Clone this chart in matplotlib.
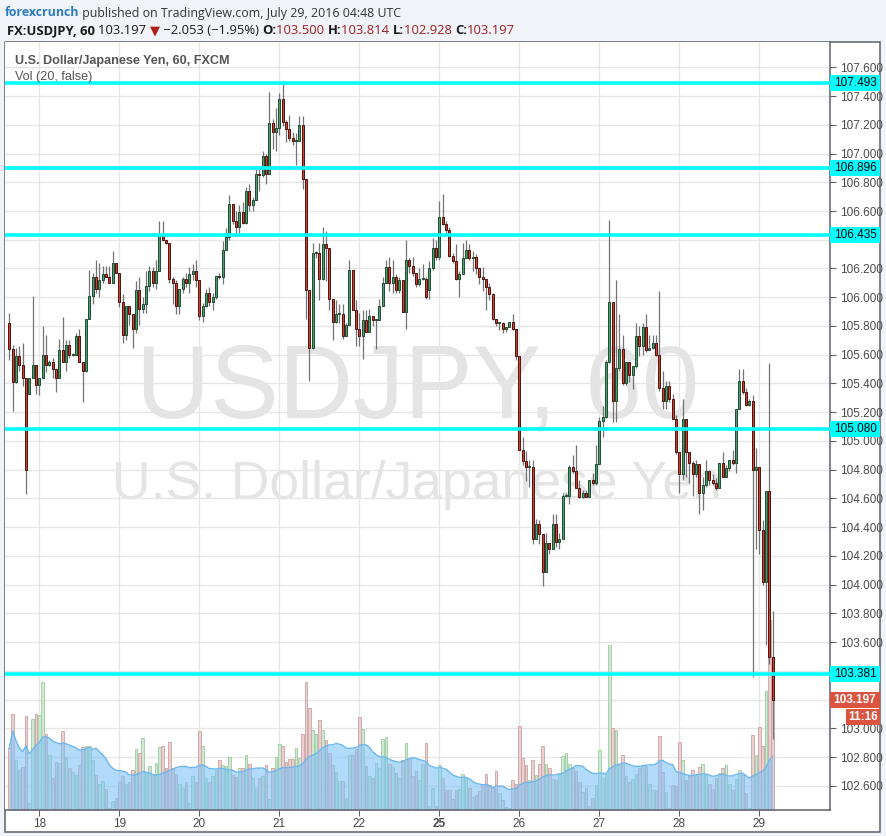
import numpy as np
import pandas as pd
import matplotlib
matplotlib.use('Agg')
import matplotlib.pyplot as plt
import matplotlib.transforms as mtransforms
from matplotlib.patches import Rectangle

plt.rcParams['font.family'] = ['Liberation Sans', 'DejaVu Sans']

W, H = 887, 836

# ── day labels (index of the 00:00 candle) ──
day_labels = ['18', '19', '20', '21', '22', '25', '26', '27', '28', '29']
day_start = [9, 33, 57, 81, 105, 129, 153, 177, 201, 225]

# ── hourly OHLC ──
opens = [
    105.82, 105.64, 105.41, 105.59, 105.53, 105.44, 105.33, 105.44, 105.53, 105.39,
    105.44, 105.60, 105.53, 105.55, 105.50, 105.44, 105.63, 105.55, 105.67, 105.60,
    105.60, 105.73, 105.55, 105.49, 105.85, 106.01, 106.14, 106.06, 106.12, 106.16,
    106.14, 106.10, 106.24, 106.17, 105.97, 105.74, 105.94, 105.88, 105.78, 106.05,
    105.92, 105.95, 106.08, 106.18, 106.10, 106.18, 106.44, 106.40, 106.38, 106.13,
    106.10, 105.94, 106.06, 106.13, 106.10, 106.16, 106.18, 106.12, 105.87, 105.94,
    106.03, 105.97, 106.00, 106.15, 106.14, 106.33, 106.42, 106.65, 106.53, 106.49,
    106.59, 106.52, 106.74, 106.64, 106.68, 106.86, 106.85, 106.98, 106.86, 107.21,
    107.15, 107.18, 107.38, 107.22, 107.17, 107.11, 107.09, 107.09, 107.20, 106.82,
    106.05, 105.65, 106.31, 106.31, 106.13, 106.37, 106.34, 105.99, 105.83, 105.88,
    105.88, 105.73, 105.81, 106.19, 105.91, 105.78, 105.73, 105.84, 105.76, 105.87,
    105.84, 105.84, 105.94, 106.10, 106.21, 106.10, 106.14, 106.05, 106.12, 105.90,
    106.26, 106.22, 106.17, 106.09, 106.13, 106.13, 106.05, 106.20, 106.34, 106.28,
    106.56, 106.51, 106.47, 106.29, 106.25, 106.13, 106.16, 106.27, 106.33, 106.27,
    106.28, 106.20, 106.14, 106.13, 106.07, 106.02, 105.85, 105.82, 105.82, 105.78,
    105.79, 105.83, 105.78, 105.59, 104.94, 104.86, 104.82, 104.82, 104.32, 104.42,
    104.35, 104.09, 104.29, 104.25, 104.42, 104.30, 104.32, 104.62, 104.62, 104.82,
    104.79, 104.67, 104.61, 104.64, 104.61, 104.73, 104.71, 104.84, 105.14, 105.17,
    105.55, 105.97, 105.28, 105.51, 105.64, 105.40, 105.55, 105.46, 105.52, 105.73,
    105.66, 105.79, 105.63, 105.65, 105.68, 105.60, 105.37, 105.28, 105.38, 105.29,
    105.15, 104.92, 104.77, 105.15, 104.92, 104.85, 104.77, 104.84, 104.64, 104.69,
    104.79, 104.73, 104.71, 104.67, 104.85, 104.75, 104.81, 104.87, 104.85, 105.22,
    105.42, 105.34, 105.25, 105.28, 104.80, 104.82, 104.38, 104.02, 104.65, 103.50,
]
highs = [
    105.89, 105.67, 105.65, 105.66, 105.68, 105.44, 105.44, 106.01, 105.53, 105.44,
    105.80, 105.74, 105.56, 105.58, 105.50, 105.71, 105.86, 105.70, 105.70, 105.61,
    105.75, 105.78, 105.55, 105.85, 106.19, 106.17, 106.26, 106.24, 106.22, 106.22,
    106.22, 106.32, 106.24, 106.17, 106.02, 105.94, 105.94, 105.88, 106.11, 106.14,
    106.00, 106.18, 106.22, 106.21, 106.26, 106.53, 106.53, 106.40, 106.38, 106.14,
    106.12, 106.06, 106.14, 106.17, 106.21, 106.23, 106.26, 106.12, 105.96, 106.06,
    106.07, 106.03, 106.15, 106.17, 106.39, 106.48, 106.71, 106.65, 106.60, 106.64,
    106.66, 106.77, 106.79, 106.70, 106.89, 106.89, 107.02, 107.00, 107.43, 107.24,
    107.32, 107.42, 107.49, 107.23, 107.27, 107.15, 107.14, 107.26, 107.26, 106.82,
    106.05, 106.38, 106.32, 106.38, 106.49, 106.46, 106.34, 105.99, 105.98, 105.95,
    105.95, 105.82, 106.26, 106.19, 105.98, 105.89, 105.91, 105.91, 105.92, 105.87,
    105.84, 105.99, 106.14, 106.26, 106.28, 106.26, 106.16, 106.14, 106.12, 106.40,
    106.27, 106.28, 106.17, 106.20, 106.23, 106.14, 106.25, 106.41, 106.40, 106.67,
    106.72, 106.53, 106.49, 106.31, 106.37, 106.18, 106.38, 106.40, 106.37, 106.32,
    106.30, 106.20, 106.21, 106.13, 106.10, 106.03, 105.85, 105.83, 105.83, 105.79,
    105.83, 105.88, 105.78, 105.59, 105.03, 104.93, 104.87, 104.87, 104.46, 104.45,
    104.35, 104.36, 104.29, 104.49, 104.49, 104.36, 104.64, 104.64, 104.83, 104.90,
    104.97, 104.73, 104.66, 104.66, 104.73, 104.78, 104.97, 105.17, 105.24, 105.56,
    106.54, 105.97, 106.12, 105.88, 105.74, 105.55, 105.55, 105.52, 105.82, 105.80,
    105.82, 105.88, 105.74, 105.74, 105.74, 106.04, 105.49, 105.42, 105.42, 105.33,
    105.18, 104.92, 105.29, 105.15, 104.92, 104.86, 104.87, 104.84, 104.75, 104.87,
    104.80, 104.77, 104.74, 104.85, 104.92, 104.83, 104.87, 104.94, 105.22, 105.50,
    105.50, 105.37, 105.29, 105.32, 104.95, 104.82, 104.45, 104.65, 105.54, 103.814,
]
lows = [
    105.56, 105.21, 105.40, 105.49, 105.38, 104.63, 105.33, 105.44, 105.33, 105.32,
    105.44, 105.48, 105.52, 105.44, 105.34, 105.44, 105.55, 105.49, 105.58, 105.59,
    105.60, 105.55, 105.27, 105.48, 105.85, 105.95, 106.03, 106.00, 106.10, 106.14,
    106.10, 106.10, 106.17, 105.93, 105.68, 105.70, 105.81, 105.65, 105.75, 105.81,
    105.89, 105.89, 106.04, 106.07, 106.06, 106.18, 106.39, 106.37, 106.10, 105.95,
    105.88, 105.88, 106.03, 106.07, 106.03, 106.12, 106.07, 105.84, 105.83, 105.93,
    105.94, 105.91, 105.99, 106.13, 106.09, 106.33, 106.40, 106.51, 106.45, 106.45,
    106.51, 106.51, 106.60, 106.60, 106.68, 106.74, 106.84, 106.79, 106.86, 107.03,
    107.02, 107.13, 107.19, 107.08, 107.09, 107.06, 106.92, 107.09, 106.75, 105.85,
    105.42, 105.64, 106.27, 105.98, 106.12, 106.11, 105.91, 105.70, 105.82, 105.82,
    105.71, 105.73, 105.81, 105.91, 105.66, 105.66, 105.57, 105.76, 105.76, 105.80,
    105.64, 105.84, 105.94, 106.10, 106.04, 106.03, 106.03, 106.03, 105.90, 105.78,
    106.17, 106.15, 106.07, 106.08, 106.12, 105.99, 105.99, 106.19, 106.26, 106.26,
    106.50, 106.45, 106.28, 106.24, 106.12, 106.00, 106.16, 106.27, 106.26, 106.18,
    106.16, 106.09, 106.04, 105.91, 105.98, 105.84, 105.80, 105.77, 105.75, 105.76,
    105.79, 105.77, 105.56, 104.94, 104.83, 104.72, 104.68, 104.28, 104.32, 104.28,
    103.99, 104.09, 104.21, 104.25, 104.26, 104.25, 104.32, 104.61, 104.56, 104.78,
    104.67, 104.60, 104.60, 104.61, 104.61, 104.69, 104.69, 104.84, 105.03, 105.16,
    105.54, 105.13, 105.13, 105.49, 105.39, 105.39, 105.41, 105.36, 105.51, 105.59,
    105.60, 105.62, 105.63, 105.64, 105.59, 105.35, 105.22, 105.22, 105.27, 105.15,
    104.91, 104.64, 104.73, 104.75, 104.71, 104.62, 104.75, 104.49, 104.52, 104.68,
    104.69, 104.69, 104.66, 104.67, 104.75, 104.75, 104.79, 104.83, 104.78, 105.22,
    105.33, 105.24, 105.24, 103.36, 104.25, 104.21, 104.00, 103.58, 103.45, 102.928,
]
closes = [
    105.64, 105.41, 105.59, 105.53, 105.44, 104.80, 105.44, 105.53, 105.39, 105.44,
    105.60, 105.53, 105.55, 105.50, 105.44, 105.63, 105.55, 105.67, 105.60, 105.60,
    105.73, 105.55, 105.49, 105.85, 106.01, 106.14, 106.06, 106.12, 106.16, 106.14,
    106.10, 106.24, 106.17, 105.97, 105.74, 105.94, 105.88, 105.78, 106.05, 105.92,
    105.95, 106.08, 106.18, 106.10, 106.18, 106.44, 106.40, 106.38, 106.13, 106.10,
    105.94, 106.06, 106.13, 106.10, 106.16, 106.18, 106.12, 105.87, 105.94, 106.03,
    105.97, 106.00, 106.15, 106.14, 106.33, 106.42, 106.65, 106.53, 106.49, 106.59,
    106.52, 106.74, 106.64, 106.68, 106.86, 106.85, 106.98, 106.86, 107.21, 107.15,
    107.18, 107.38, 107.22, 107.17, 107.11, 107.09, 107.09, 107.20, 106.82, 106.05,
    105.65, 106.31, 106.31, 106.13, 106.37, 106.34, 105.99, 105.83, 105.88, 105.88,
    105.73, 105.81, 106.19, 105.91, 105.78, 105.73, 105.84, 105.76, 105.87, 105.84,
    105.84, 105.94, 106.10, 106.21, 106.10, 106.14, 106.05, 106.12, 105.90, 106.26,
    106.22, 106.17, 106.09, 106.13, 106.13, 106.00, 106.20, 106.34, 106.28, 106.56,
    106.51, 106.47, 106.29, 106.25, 106.13, 106.16, 106.27, 106.33, 106.27, 106.28,
    106.20, 106.14, 106.13, 106.07, 106.02, 105.85, 105.82, 105.82, 105.78, 105.79,
    105.83, 105.78, 105.59, 104.94, 104.86, 104.82, 104.82, 104.32, 104.42, 104.35,
    104.09, 104.29, 104.25, 104.42, 104.30, 104.32, 104.62, 104.62, 104.82, 104.79,
    104.67, 104.61, 104.64, 104.61, 104.73, 104.71, 104.84, 105.14, 105.17, 105.55,
    105.97, 105.28, 105.51, 105.64, 105.40, 105.55, 105.46, 105.52, 105.73, 105.66,
    105.79, 105.63, 105.65, 105.68, 105.60, 105.37, 105.28, 105.38, 105.29, 105.15,
    104.92, 104.77, 105.15, 104.92, 104.85, 104.77, 104.84, 104.64, 104.69, 104.79,
    104.73, 104.71, 104.67, 104.85, 104.75, 104.81, 104.87, 104.85, 105.22, 105.42,
    105.34, 105.25, 105.28, 104.80, 104.82, 104.38, 104.02, 104.65, 103.50, 103.197,
]
volume = [
    62, 96, 50, 40, 43, 94, 7, 91, 96, 95, 128, 76, 55, 32, 48, 47, 79, 53, 42, 38,
    35, 45, 63, 64, 64, 50, 35, 26, 29, 21, 2, 9, 12, 28, 34, 26, 28, 40, 61, 57,
    72, 38, 44, 36, 47, 63, 64, 42, 68, 42, 36, 26, 22, 28, 7, 34, 28, 79, 64, 32,
    28, 34, 40, 50, 45, 44, 53, 35, 33, 42, 42, 55, 46, 32, 22, 32, 34, 45, 11, 42,
    53, 66, 64, 48, 51, 51, 62, 52, 76, 128, 102, 80, 76, 90, 80, 70, 57, 45, 38, 29,
    29, 12, 55, 55, 61, 93, 81, 44, 34, 32, 47, 42, 71, 73, 46, 43, 37, 32, 50, 67,
    52, 34, 39, 30, 46, 67, 4, 22, 4, 45, 32, 20, 20, 11, 20, 21, 36, 32, 22, 13,
    15, 19, 26, 36, 25, 22, 39, 17, 10, 3, 2, 30, 26, 84, 52, 45, 30, 50, 35, 46,
    64, 46, 42, 31, 30, 37, 54, 57, 46, 42, 39, 28, 18, 22, 4, 12, 25, 60, 32, 36,
    165, 82, 80, 45, 55, 34, 28, 31, 36, 42, 45, 44, 26, 20, 20, 74, 38, 18, 2, 25,
    24, 68, 50, 30, 34, 40, 35, 43, 46, 36, 26, 21, 32, 37, 42, 45, 26, 20, 31, 40,
    35, 17, 2, 75, 55, 83, 64, 119, 190, 114,
]

levels = [107.493, 106.896, 106.435, 105.080, 103.381]
last_price = 103.197
countdown = '11:16'

x = np.arange(len(closes))
o, hi, lo, c = (np.array(a) for a in (opens, highs, lows, closes))
vol = np.array(volume, dtype=float)
vol_ma = pd.Series(vol).rolling(20, min_periods=1).mean().values
up = c >= o

fig = plt.figure(figsize=(W / 100, H / 100), dpi=100, facecolor='#f0f3f8')

# white panel with frame
fig.add_artist(Rectangle((5 / W, 1 - 832 / H), 875 / W, 790 / H, transform=fig.transFigure,
                         facecolor='white', edgecolor='#5d606b', lw=1.1, zorder=-5))

ax = fig.add_axes([5 / W, 1 - 810 / H, 825 / W, 768 / H])
ax.set_xlim(-1.29, 246.2)
ax.set_ylim(102.432, 107.776)
ax.set_autoscale_on(False)

# ── grid / ticks ──
yt = np.round(np.arange(102.6, 107.61, 0.2), 1)
ax.set_axisbelow(True)
ax.set_yticks(yt)
ax.set_yticklabels([f'{v:.3f}' for v in yt])
ax.set_xticks(day_start)
ax.set_xticklabels(day_labels)
ax.grid(color='#e6e6e6', lw=1)
ax.yaxis.tick_right()
ax.tick_params(axis='y', direction='out', length=4, color='#5d606b',
               labelcolor='#4a4a4a', labelsize=8.5, pad=3)
ax.tick_params(axis='x', direction='out', length=4, color='#5d606b',
               labelcolor='#4a4a4a', labelsize=8.5, pad=2)
ax.get_xticklabels()[5].set_fontweight('bold')
# labels that sit under the price tags are hidden, as in the original
for lab, v in zip(ax.get_yticklabels(), yt):
    if v in (106.4, 103.4, 103.2):
        lab.set_visible(False)
for side in ('left', 'top'):
    ax.spines[side].set_visible(False)
for side in ('right', 'bottom'):
    ax.spines[side].set_color('#5d606b')
    ax.spines[side].set_linewidth(1.1)

# ── watermark ──
ax.text(0.5, 0.545, 'USDJPY, 60', transform=ax.transAxes, ha='center', va='center',
        fontsize=74, color='#e4e4e4', zorder=0.2)
ax.text(0.5, 0.423, 'U.S. Dollar/Japanese Yen', transform=ax.transAxes, ha='center',
        va='center', fontsize=38.5, color='#e4e4e4', zorder=0.2)

# ── volume (bottom of pane, height in px of pane) ──
vtrans = mtransforms.blended_transform_factory(ax.transData, ax.transAxes)
vfrac = vol / 768
ax.bar(x[up], vfrac[up], 0.72, 0, transform=vtrans, color='#cfe8d2',
       edgecolor='#9dcca3', lw=0.6, zorder=1)
ax.bar(x[~up], vfrac[~up], 0.72, 0, transform=vtrans, color='#ecd0d0',
       edgecolor='#caa2a2', lw=0.6, zorder=1)
ax.fill_between(x, 0, vol_ma / 768, transform=vtrans, color='#7fc2f7', alpha=0.6,
                lw=0, zorder=1.2)
ax.plot(x, vol_ma / 768, transform=vtrans, color='#6db7f0', lw=1, zorder=1.3)

# ── candles ──
body_lo = np.minimum(o, c)
body_h = np.maximum(np.abs(c - o), 0.007)
ax.vlines(x, lo, hi, color='#737375', lw=0.9, zorder=3)
ax.bar(x[up], body_h[up], 0.68, body_lo[up], color='#4f9e6e', edgecolor='#1f4d33',
       lw=0.7, zorder=4)
ax.bar(x[~up], body_h[~up], 0.68, body_lo[~up], color='#d2402d', edgecolor='#4d1410',
       lw=0.7, zorder=4)

# ── horizontal levels ──
for lv in levels:
    ax.axhline(lv, color='#00ffff', lw=2.6, zorder=5)

# ── price tags on the axis ──
def y_px(price):
    return ax.transData.transform((0, price))[1]

def tag(price, text, fc, tc, x0=830, x1=880, dy=0, weight='normal'):
    yc = y_px(price) - dy
    fig.add_artist(Rectangle((x0 / W, (yc - 8) / H), (x1 - x0) / W, 16 / H,
                             transform=fig.transFigure, facecolor=fc, edgecolor='none',
                             zorder=6))
    fig.text((x0 + x1) / 2 / W, yc / H, text, ha='center', va='center', fontsize=8.5,
             color=tc, fontweight=weight, zorder=7)

for lv in levels:
    tag(lv, f'{lv:.3f}', '#00ffff', 'black')
tag(last_price, f'{last_price:.3f}', '#dc5441', 'white', weight='bold')
tag(last_price, countdown, '#dc5441', 'white', x0=846, dy=17, weight='bold')

# ── header & legend texts ──
renderer = fig.canvas.get_renderer()

def text_run(x0, y_top, parts, size, family):
    xx = x0
    for s, col, wt in parts:
        t = fig.text(xx / W, 1 - y_top / H, s, ha='left', va='center', fontsize=size,
                     color=col, fontweight=wt, family=family)
        xx += t.get_window_extent(renderer=renderer).width

hdr = ['Open Sans', 'DejaVu Sans']
text_run(5, 13, [('forexcrunch', '#2b7bbf', 'bold'),
                 (' published on TradingView.com, July 29, 2016 04:48 UTC', '#333333', 'normal')],
         8.9, hdr)
text_run(7, 31, [('FX:USDJPY, 60 ', '#1a1a1a', 'bold'),
                 ('103.197 ', '#1a1a1a', 'normal'),
                 ('▼', '#b01c1c', 'normal'),
                 (' \u22122.053 (\u22121.95%) ', '#1a1a1a', 'normal'),
                 ('O:', '#1a1a1a', 'bold'), ('103.500 ', '#a51d1d', 'normal'),
                 ('H:', '#1a1a1a', 'bold'), ('103.814 ', '#a51d1d', 'normal'),
                 ('L:', '#1a1a1a', 'bold'), ('102.928 ', '#a51d1d', 'normal'),
                 ('C:', '#1a1a1a', 'bold'), ('103.197', '#a51d1d', 'normal')],
         9.4, hdr)
fig.text(15 / W, 1 - 61 / H, 'U.S. Dollar/Japanese Yen, 60, FXCM', ha='left', va='center',
         fontsize=9.1, color='#555555', fontweight='bold', zorder=2)
fig.text(15 / W, 1 - 77 / H, 'Vol (20, false)', ha='left', va='center',
         fontsize=9.1, color='#555555', zorder=2)

fig.savefig('out.png', dpi=100, facecolor=fig.get_facecolor())
